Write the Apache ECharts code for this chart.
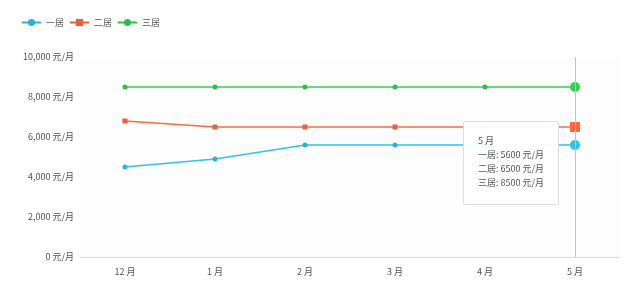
<!DOCTYPE html>
<html><head><meta charset="utf-8">
<script src="https://cdn.jsdelivr.net/npm/echarts@6/dist/echarts.min.js"></script>
<style>html,body{margin:0;padding:0;background:#fff}#c{width:640px;height:294px}</style>
</head><body><div id="c"></div>
<script>
const categories = ['12 月','1 月','2 月','3 月','4 月','5 月'];
const seriesNames = ['一居','二居','三居'];
const oneRoom = [4500, 4900, 5600, 5600, 5600, 5600];
const twoRoom = [6800, 6500, 6500, 6500, 6500, 6500];
const threeRoom = [8500, 8500, 8500, 8500, 8500, 8500];
const yTicks = [0, 2000, 4000, 6000, 8000, 10000];
const colors = ['#2bb3cb', '#e8603c', '#2fbe4c'];
const font = '"Microsoft YaHei","Noto Sans CJK SC",sans-serif';
const chart = echarts.init(document.getElementById('c'));
const symSize = (v, p) => p.dataIndex === 5 ? 10 : 5;
function mk(name, data, symbol, color) {
  return {name, type:'line', data, symbol, symbolSize: symSize, showAllSymbol:true,
    itemStyle:{color}, lineStyle:{color, width:1.5}, emphasis:{scale:false}};
}
chart.setOption({
  animation:false,
  color: colors,
  textStyle:{fontFamily:font},
  legend:{left:16, top:13, itemWidth:19, itemHeight:9, itemGap:5,
    textStyle:{fontSize:9, color:'#555', fontFamily:font},
    data:seriesNames},
  grid:{left:80, right:20, top:57, bottom:37, backgroundColor:'#fdfdfd', show:true, borderWidth:0},
  tooltip:{trigger:'axis', alwaysShowContent:true, position:[463,121],
    backgroundColor:'rgba(255,255,255,0.95)', borderColor:'#ddd', borderWidth:1, padding:[12,14,14,14],
    textStyle:{fontSize:9, color:'#555', fontFamily:font},
    extraCssText:'box-shadow:none;border-radius:2px;width:66px;line-height:14px;',
    axisPointer:{type:'line', lineStyle:{color:'#c4c4c4', width:1, type:'solid'}},
    formatter: ps => ps[0].name + '<br/>' + ps.map(p => p.seriesName + ': ' + p.value + ' 元/月').join('<br/>')},
  xAxis:{type:'category', data:categories, boundaryGap:true,
    axisLine:{lineStyle:{color:'#ddd'}}, axisTick:{show:false},
    axisLabel:{color:'#555', fontSize:9, margin:10, fontFamily:font}},
  yAxis:{type:'value', min:0, max:10000, interval:2000,
    axisLine:{show:false}, axisTick:{show:false}, splitLine:{show:false},
    axisLabel:{color:'#555', fontSize:9, margin:6, fontFamily:font,
      formatter: v => v.toLocaleString('en-US') + ' 元/月'}},
  series:[mk(seriesNames[0], oneRoom, 'circle', colors[0]),
          mk(seriesNames[1], twoRoom, 'rect', colors[1]),
          mk(seriesNames[2], threeRoom, 'circle', colors[2])]
});
chart.dispatchAction({type:'showTip', seriesIndex:0, dataIndex:5});
</script></body></html>
